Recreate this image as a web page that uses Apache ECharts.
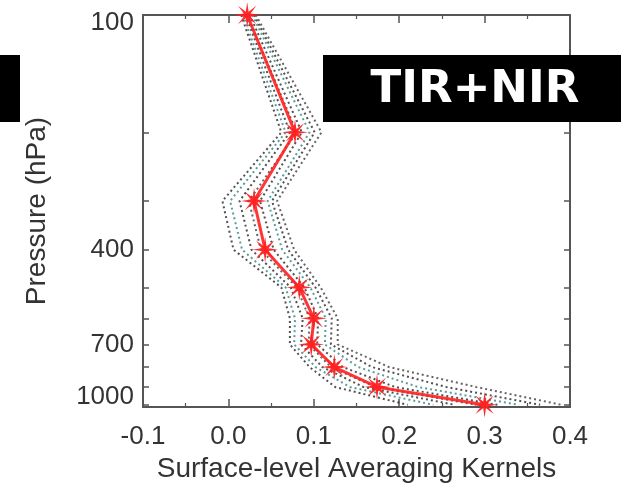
<!DOCTYPE html>
<html>
<head>
<meta charset="utf-8">
<script src="https://cdn.jsdelivr.net/npm/echarts@6/dist/echarts.min.js"></script>
<style>
  html, body { margin: 0; padding: 0; background: #fff; }
  #chart { width: 621px; height: 486px; }
</style>
</head>
<body>
<div id="chart"></div>
<script>
// pressure levels (hPa)
var levels = [100, 200, 300, 400, 500, 600, 700, 800, 900, 1000];

// mean surface-level averaging kernel (red line with stars)
var meanAK = [0.022, 0.078, 0.030, 0.043, 0.083, 0.100, 0.097, 0.124, 0.174, 0.300];

// individual kernels (dotted lines)
var memberAK = [
  [0.015, 0.062, -0.007, 0.006, 0.062, 0.072, 0.072, 0.095, 0.125, 0.210],
  [0.017, 0.067, 0.002, 0.016, 0.067, 0.078, 0.077, 0.102, 0.142, 0.240],
  [0.020, 0.072, 0.013, 0.027, 0.073, 0.087, 0.085, 0.110, 0.158, 0.265],
  [0.022, 0.080, 0.024, 0.038, 0.080, 0.095, 0.094, 0.120, 0.172, 0.290],
  [0.025, 0.086, 0.037, 0.053, 0.089, 0.105, 0.104, 0.134, 0.195, 0.315],
  [0.028, 0.095, 0.046, 0.063, 0.096, 0.114, 0.113, 0.152, 0.222, 0.340],
  [0.030, 0.101, 0.051, 0.070, 0.102, 0.121, 0.120, 0.168, 0.255, 0.365],
  [0.032, 0.109, 0.057, 0.077, 0.108, 0.128, 0.128, 0.188, 0.290, 0.390]
];
var memberColor = ['#333333', '#3f8a8a', '#333333', '#4a4a4a', '#333333', '#3f8a8a', '#333333', '#4a4a4a'];

var xTicks = [-0.1, 0.0, 0.1, 0.2, 0.3, 0.4];
var yLabels = [100, 400, 700, 1000];

(function () {
  var chart = echarts.init(document.getElementById('chart'));

  // star symbol with thin spikes
  var pts = [];
  for (var i = 0; i < 16; i++) {
    var a = i * Math.PI / 8;
    var r = i % 2 === 0 ? 10 : 2.8;
    pts.push((10 + r * Math.sin(a)).toFixed(2) + ' ' + (10 - r * Math.cos(a)).toFixed(2));
  }
  var starPath = 'path://M' + pts.join(' L') + ' Z';

  var axisColor = '#555';
  var textColor = '#333';
  var font = 'Liberation Sans';

  var series = memberAK.map(function (m, k) {
    return {
      type: 'line',
      data: levels.map(function (p, i) { return [m[i], p]; }),
      symbol: 'none',
      silent: true,
      lineStyle: { color: memberColor[k], width: 2, type: [2, 3], opacity: 0.85 },
      z: 2
    };
  });

  series.push({
    type: 'line',
    data: levels.map(function (p, i) { return [meanAK[i], p]; }),
    symbol: starPath,
    symbolSize: 26,
    itemStyle: { color: '#ff2020', opacity: 0.95 },
    lineStyle: { color: '#ff2020', width: 3, opacity: 0.9 },
    z: 5
  });

  var xBase = {
    type: 'value',
    min: -0.1,
    max: 0.4,
    interval: 0.1,
    axisLine: { show: true, onZero: false, lineStyle: { color: axisColor, width: 2 } },
    axisTick: { show: true, inside: true, length: 8, lineStyle: { color: axisColor, width: 1.5 } },
    minorTick: { show: true, splitNumber: 2, length: 4, lineStyle: { color: axisColor, width: 1.2 } },
    splitLine: { show: false }
  };

  var yBase = {
    type: 'log',
    logBase: 10,
    min: 100,
    max: 1013,
    inverse: true,
    axisLine: { show: true, onZero: false, lineStyle: { color: axisColor, width: 2 } },
    axisTick: { show: true, inside: true, length: 6, customValues: levels, lineStyle: { color: axisColor, width: 1.5 } },
    splitLine: { show: false },
    minorTick: { show: false }
  };

  var option = {
    animation: false,
    backgroundColor: '#fff',
    grid: { left: 143, right: 51, top: 15, bottom: 79, outerBoundsMode: 'none', containLabel: false },
    xAxis: [
      Object.assign({}, xBase, {
        position: 'bottom',
        name: 'Surface-level Averaging Kernels',
        nameLocation: 'middle',
        nameGap: 47,
        nameTextStyle: { fontFamily: font, fontSize: 28, color: textColor },
        axisLabel: {
          fontFamily: font, fontSize: 26, color: textColor, margin: 17,
          formatter: function (v) { return v.toFixed(1); },
          customValues: xTicks
        }
      }),
      Object.assign({}, xBase, { position: 'top', axisLabel: { show: false } })
    ],
    yAxis: [
      Object.assign({}, yBase, {
        position: 'left',
        name: 'Pressure (hPa)',
        nameLocation: 'middle',
        nameGap: 92,
        nameTextStyle: { fontFamily: font, fontSize: 28, color: textColor },
        axisLabel: {
          fontFamily: font, fontSize: 26, lineHeight: 16, color: textColor, margin: 9,
          customValues: yLabels,
          verticalAlignMinLabel: 'top',
          verticalAlignMaxLabel: 'bottom',
          formatter: function (v) { return String(Math.round(v)); }
        }
      }),
      Object.assign({}, yBase, { position: 'right', axisLabel: { show: false } })
    ],
    graphic: [
      { type: 'rect', left: 0, top: 55, shape: { width: 20, height: 67 }, style: { fill: '#000' }, z: 10 },
      { type: 'rect', left: 323, top: 55, shape: { width: 300, height: 67 }, style: { fill: '#000' }, z: 10 },
      {
        type: 'text', x: 475, y: 90, z: 11,
        style: {
          text: 'TIR+NIR', fill: '#fff', fontFamily: 'DejaVu Sans', fontWeight: 'bold',
          fontSize: 45, textAlign: 'center', textVerticalAlign: 'middle'
        }
      }
    ],
    series: series
  };

  chart.setOption(option);
})();
</script>
</body>
</html>
